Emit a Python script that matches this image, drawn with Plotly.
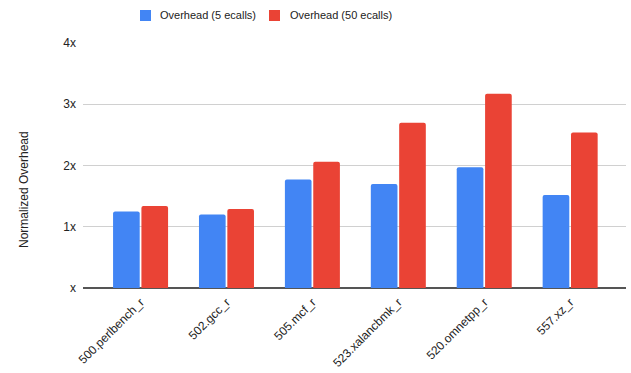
import plotly.graph_objects as go

# Benchmarks and normalized overhead values
benchmarks = ["500.perlbench_r", "502.gcc_r", "505.mcf_r",
              "523.xalancbmk_r", "520.omnetpp_r", "557.xz_r"]
overhead_5 = [1.25, 1.20, 1.77, 1.70, 1.97, 1.52]
overhead_50 = [1.34, 1.29, 2.06, 2.70, 3.17, 2.54]

series_names = ["Overhead (5 ecalls)", "Overhead (50 ecalls)"]
series_colors = ["#4285F4", "#EA4335"]

y_tickvals = [0, 1, 2, 3, 4]
y_ticktext = ["x", "1x", "2x", "3x", "4x"]

W, H = 631, 373
M_L, M_R, M_T, M_B = 83, 5, 43, 85
PW, PH = W - M_L - M_R, H - M_T - M_B


def px_x(px):
    return (px - M_L) / PW


def px_y(py):
    return (H - M_B - py) / PH


FONT = "Liberation Sans, Arial, sans-serif"

fig = go.Figure()
for name, vals, color in zip(series_names, [overhead_5, overhead_50], series_colors):
    fig.add_trace(go.Bar(
        x=benchmarks, y=vals, name=name,
        marker=dict(color=color, line=dict(width=0)),
        showlegend=False,
        hovertemplate="%{x}<br>" + name + ": %{y:.2f}x<extra></extra>",
    ))

# Legend drawn as colored squares with text labels
shapes = []
annotations = []
legend_items = [(140, 158), (269, 288)]
for (sq_x, tx_x), name, color in zip(legend_items, series_names, series_colors):
    shapes.append(dict(
        type="rect", xref="paper", yref="paper",
        x0=px_x(sq_x), x1=px_x(sq_x + 11),
        y0=px_y(21), y1=px_y(10),
        fillcolor=color, line=dict(width=0), layer="above",
    ))
    annotations.append(dict(
        xref="paper", yref="paper", x=px_x(tx_x), y=px_y(15.5),
        xanchor="left", yanchor="middle", showarrow=False,
        text=name, font=dict(family=FONT, size=11, color="#222222"),
    ))

# Y axis title
annotations.append(dict(
    xref="paper", yref="paper", x=px_x(24), y=px_y(190),
    xanchor="center", yanchor="middle", showarrow=False, textangle=-90,
    text="Normalized Overhead", font=dict(family=FONT, size=12, color="#222222"),
))

fig.update_layout(
    width=W, height=H,
    margin=dict(l=M_L, r=M_R, t=M_T, b=M_B),
    paper_bgcolor="white", plot_bgcolor="white",
    barmode="group", bargap=0.34, bargroupgap=0.06,
    barcornerradius=2,
    font=dict(family=FONT, size=12, color="#222222"),
    shapes=shapes, annotations=annotations,
    showlegend=False,
    xaxis=dict(
        range=[-0.67, 5.65], tickangle=-45, automargin=False,
        showgrid=False, showline=False, ticks="", ticklabelstandoff=4,
        tickfont=dict(family=FONT, size=12, color="#222222"),
    ),
    yaxis=dict(
        range=[0, 4], tickvals=y_tickvals, ticktext=y_ticktext,
        automargin=False, showgrid=True, gridcolor="#d0d0d0", gridwidth=1,
        zeroline=True, zerolinecolor="#555555", zerolinewidth=1.5,
        showline=False, ticks="", ticklabelstandoff=6,
        tickfont=dict(family=FONT, size=12, color="#222222"),
    ),
)

fig.write_html("out.html")
